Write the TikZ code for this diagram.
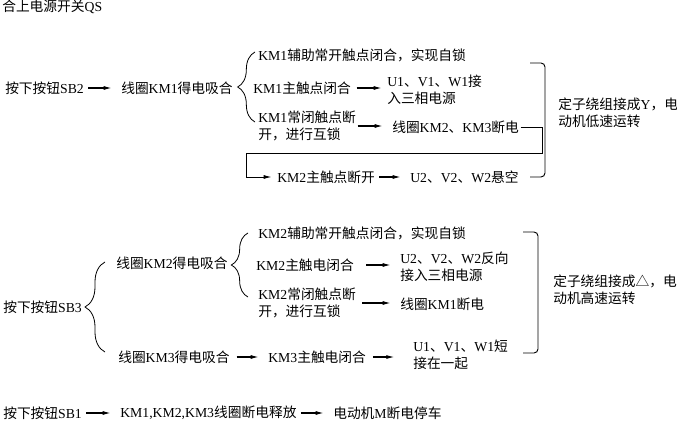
\documentclass[tikz,border=0pt]{standalone}
\usepackage{fontspec}
\setmainfont{Liberation Serif}
\newfontfamily\cjkfont{Noto Sans CJK SC}
\usetikzlibrary{arrows.meta,decorations.pathreplacing}

% Chinese characters are set in the CJK font
\XeTeXinterchartokenstate=1
\newXeTeXintercharclass\cjkclass
\newcount\cjkchar
\cjkchar="4E00
\loop
  \XeTeXcharclass\cjkchar=\cjkclass
  \ifnum\cjkchar<"9FFF \advance\cjkchar by 1 \repeat
\XeTeXcharclass"3001=\cjkclass
\XeTeXcharclass"FF0C=\cjkclass
\XeTeXcharclass"25B3=\cjkclass
\XeTeXinterchartoks 0 \cjkclass={\cjkfont}
\XeTeXinterchartoks 4095 \cjkclass={\cjkfont}
\XeTeXinterchartoks \cjkclass 0={\rmfamily}
\XeTeXinterchartoks 4095 0={\rmfamily}

\begin{document}
\begin{tikzpicture}[x=0.75pt, y=-0.75pt,
  txt/.style={anchor=west, inner sep=0pt, align=left, font=\fontsize{10.3}{12.5}\selectfont},
  arr/.style={-{Latex[length=6pt,width=3pt]}, line width=0.8pt, shorten <=3pt, shorten >=7pt},
  brc/.style={decorate, decoration={brace, amplitude=#1}, line width=0.6pt},
  bkt/.style={line width=0.7pt, rounded corners=3pt}]
\useasboundingbox (0,0) rectangle (677,424);

% low speed
\node[txt] (qs) at (2,7) {合上电源开关QS};
\node[txt] (sb2) at (5,88) {按下按钮SB2};
\node[txt] (km1on) at (121,88) {线圈KM1得电吸合};
\node[txt] (km1aux) at (258,55) {KM1辅助常开触点闭合，实现自锁};
\node[txt] (km1main) at (253,88) {KM1主触点闭合};
\node[txt] (u1in) at (387,89.5) {U1、V1、W1接\\入三相电源};
\node[txt] (km1nc) at (258,126) {KM1常闭触点断\\开，进行互锁};
\node[txt] (off23) at (392,127) {线圈KM2、KM3断电};
\node[txt] (km2open) at (277,177) {KM2主触点断开};
\node[txt] (u2float) at (410,177) {U2、V2、W2悬空};
\node[txt] (lowspd) at (558,113) {定子绕组接成Y，电\\动机低速运转};
\coordinate (turn) at (246,153);

\draw[arr] (sb2.east) -- (sb2.east -| km1on.west);
\draw[arr, shorten <=4pt, shorten >=4pt] (km1main.east) -- (km1main.east -| u1in.west);
\draw[arr, shorten <=1pt] (km1nc.east) -- (km1nc.east -| off23.west);
\draw[arr] (km2open.east) -- (km2open.east -| u2float.west);
\draw[arr, line width=0.7pt, shorten <=1pt, shorten >=4pt] (off23.east) -- ++(23,0) |- (turn) |- (km2open.west);
\draw[brc=13pt] (255,122) -- (255,52);
\draw[bkt] (530,63) -- (545,63) -- (545,177) -- (530,177);

% high speed
\node[txt] (sb3) at (3,307) {按下按钮SB3};
\node[txt] (km2on) at (116,263) {线圈KM2得电吸合};
\node[txt] (km2aux) at (258,233) {KM2辅助常开触点闭合，实现自锁};
\node[txt] (km2main) at (256,265) {KM2主触电闭合};
\node[txt] (u2rev) at (400,267) {U2、V2、W2反向\\接入三相电源};
\node[txt] (km2nc) at (258,303) {KM2常闭触点断\\开，进行互锁};
\node[txt] (km1off) at (400,304) {线圈KM1断电};
\node[txt] (km3on) at (118,357) {线圈KM3得电吸合};
\node[txt] (km3main) at (268,357) {KM3主触电闭合};
\node[txt] (u1short) at (413,355) {U1、V1、W1短\\接在一起};
\node[txt] (highspd) at (553,290) {定子绕组接成△，电\\动机高速运转};

\draw[arr, shorten <=9pt] (km2main.east) -- (km2main.east -| u2rev.west);
\draw[arr, shorten <=4.5pt] (km2nc.east) -- (km2nc.east -| km1off.west);
\draw[arr, shorten <=5pt] (km3on.east) -- (km3on.east -| km3main.west);
\draw[arr, shorten <=5pt, shorten >=14pt] (km3main.east) -- (km3main.east -| u1short.west);
\draw[brc=15pt] (105,352) -- (105,262);
\draw[brc=12.5pt] (248,297) -- (248,233);
\draw[bkt] (523,232) -- (538,232) -- (538,353) -- (523,353);

% stop
\node[txt] (sb1) at (3,413) {按下按钮SB1};
\node[txt] (alloff) at (120,413) {KM1,KM2,KM3线圈断电释放};
\node[txt] (stop) at (333,413) {电动机M断电停车};

\draw[arr] (sb1.east) -- (sb1.east -| alloff.west);
\draw[arr] (alloff.east) -- (alloff.east -| stop.west);
\end{tikzpicture}
\end{document}
